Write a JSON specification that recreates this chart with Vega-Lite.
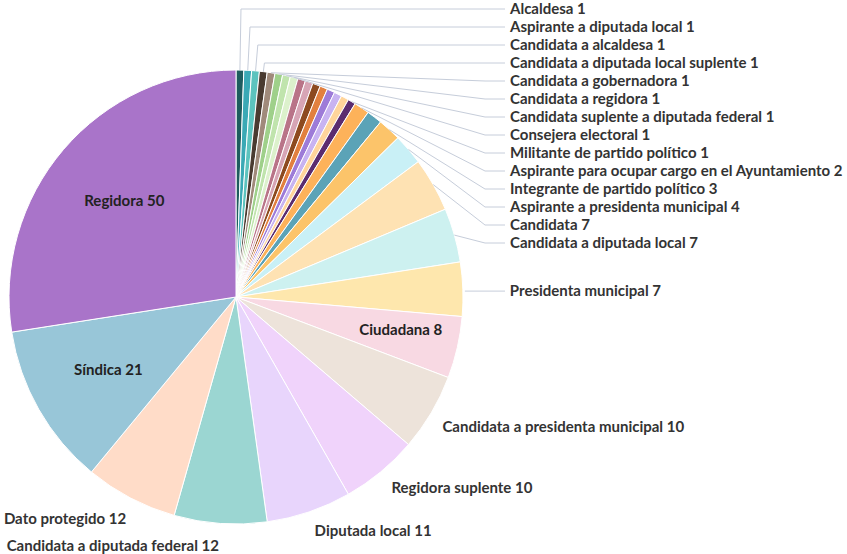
{
  "$schema": "https://vega.github.io/schema/vega-lite/v6.json",
  "autosize": {"type": "none"},
  "width": 472,
  "height": 454,
  "padding": {"left": 0, "top": 70, "right": 375, "bottom": 30},
  "background": "white",
  "config": {"view": {"stroke": null}, "text": {"font": "Lato", "fontSize": 15, "fontWeight": "bold", "fill": "#333333"}},
  "data": {"values": [
    {"cargo": "Alcaldesa", "n": 1},
    {"cargo": "Aspirante a diputada local", "n": 1},
    {"cargo": "Candidata a alcaldesa", "n": 1},
    {"cargo": "Candidata a diputada local suplente", "n": 1},
    {"cargo": "Candidata a gobernadora", "n": 1},
    {"cargo": "Candidata a regidora", "n": 1},
    {"cargo": "Candidata suplente a diputada federal", "n": 1},
    {"cargo": "Consejera electoral", "n": 1},
    {"cargo": "Otro cargo A", "n": 1},
    {"cargo": "Otro cargo B", "n": 1},
    {"cargo": "Otro cargo C", "n": 1},
    {"cargo": "Otro cargo D", "n": 1},
    {"cargo": "Otro cargo E", "n": 1},
    {"cargo": "Otro cargo F", "n": 1},
    {"cargo": "Otro cargo G", "n": 1},
    {"cargo": "Militante de partido político", "n": 1},
    {"cargo": "Aspirante para ocupar cargo en el Ayuntamiento", "n": 2},
    {"cargo": "Otro cargo H", "n": 2},
    {"cargo": "Integrante de partido político", "n": 3},
    {"cargo": "Aspirante a presidenta municipal", "n": 4},
    {"cargo": "Candidata", "n": 7},
    {"cargo": "Candidata a diputada local", "n": 7},
    {"cargo": "Presidenta municipal", "n": 7},
    {"cargo": "Ciudadana", "n": 8},
    {"cargo": "Candidata a presidenta municipal", "n": 10},
    {"cargo": "Regidora suplente", "n": 10},
    {"cargo": "Diputada local", "n": 11},
    {"cargo": "Candidata a diputada federal", "n": 12},
    {"cargo": "Dato protegido", "n": 12},
    {"cargo": "Síndica", "n": 21},
    {"cargo": "Regidora", "n": 50}
  ]},
  "transform": [
    {"window": [{"op": "row_number", "as": "idx"}]},
    {"joinaggregate": [{"op": "sum", "field": "n", "as": "total"}]},
    {"window": [{"op": "sum", "field": "n", "as": "cum"}], "sort": [{"field": "idx", "order": "ascending"}], "frame": [null, 0]},
    {"calculate": "(datum.cum - datum.n / 2) / datum.total * 2 * PI", "as": "am"},
    {"calculate": "datum.cargo + ' ' + datum.n", "as": "lbl"}
  ],
  "resolve": {"scale": {"theta": "independent"}},
  "layer": [
    {
      "mark": {"type": "arc", "stroke": "white", "strokeWidth": 1},
      "encoding": {
        "theta": {"field": "n", "type": "quantitative", "stack": true},
        "order": {"field": "idx", "type": "quantitative"},
        "color": {
          "field": "cargo", "type": "nominal", "legend": null,
          "scale": {
            "domain": ["Alcaldesa", "Aspirante a diputada local", "Candidata a alcaldesa", "Candidata a diputada local suplente", "Candidata a gobernadora", "Candidata a regidora", "Candidata suplente a diputada federal", "Consejera electoral", "Otro cargo A", "Otro cargo B", "Otro cargo C", "Otro cargo D", "Otro cargo E", "Otro cargo F", "Otro cargo G", "Militante de partido político", "Aspirante para ocupar cargo en el Ayuntamiento", "Otro cargo H", "Integrante de partido político", "Aspirante a presidenta municipal", "Candidata", "Candidata a diputada local", "Presidenta municipal", "Ciudadana", "Candidata a presidenta municipal", "Regidora suplente", "Diputada local", "Candidata a diputada federal", "Dato protegido", "Síndica", "Regidora"],
            "range": ["#1e5c5e", "#3aa9b5", "#5cc3be", "#4a3b31", "#a08a7b", "#9fd08a", "#c0e4ad", "#dcf1cc", "#b97488", "#d7a5b5", "#8d4a1f", "#e2803f", "#9d7bd8", "#c8b3f1", "#ffd59b", "#5b2c6f", "#fdb25a", "#5ba3b7", "#fcc46a", "#c9f0f6", "#fee2b3", "#cdf1f0", "#fee7ad", "#f8d9e3", "#ede3da", "#f0d3fb", "#e8d5fc", "#9bd6d2", "#ffdcc8", "#98c6d8", "#a974c9"]
          }
        }
      }
    },
    {
      "transform": [{"filter": {"field": "cargo", "oneOf": ["Regidora", "Síndica"]}}],
      "mark": {"type": "text", "radius": 147, "align": "center", "baseline": "middle", "fill": "#222222"},
      "encoding": {"theta": {"field": "am", "type": "quantitative", "scale": null}, "text": {"field": "lbl"}}
    },
    {
      "transform": [{"filter": {"field": "cargo", "oneOf": ["Ciudadana"]}}],
      "mark": {"type": "text", "radius": 169, "align": "center", "baseline": "middle", "dy": -5, "fill": "#222222"},
      "encoding": {"theta": {"field": "am", "type": "quantitative", "scale": null}, "text": {"field": "lbl"}}
    },
    {
      "transform": [{"filter": {"field": "cargo", "oneOf": ["Candidata a presidenta municipal"]}}],
      "mark": {"type": "text", "radius": 240, "align": "left", "baseline": "middle", "dy": 8},
      "encoding": {"theta": {"field": "am", "type": "quantitative", "scale": null}, "text": {"field": "lbl"}}
    },
    {
      "transform": [{"filter": {"field": "cargo", "oneOf": ["Regidora suplente", "Diputada local"]}}],
      "mark": {"type": "text", "radius": 244, "align": "left", "baseline": "middle", "dy": 3},
      "encoding": {"theta": {"field": "am", "type": "quantitative", "scale": null}, "text": {"field": "lbl"}}
    },
    {
      "transform": [{"filter": {"field": "cargo", "oneOf": ["Candidata a diputada federal"]}}],
      "mark": {"type": "text", "radius": 247, "align": "right", "baseline": "middle", "dy": 3},
      "encoding": {"theta": {"field": "am", "type": "quantitative", "scale": null}, "text": {"field": "lbl"}}
    },
    {
      "transform": [{"filter": {"field": "cargo", "oneOf": ["Dato protegido"]}}],
      "mark": {"type": "text", "radius": 247, "align": "right", "baseline": "middle", "dy": 3, "dx": 5},
      "encoding": {"theta": {"field": "am", "type": "quantitative", "scale": null}, "text": {"field": "lbl"}}
    },
    {
      "transform": [{"filter": {"field": "cargo", "oneOf": ["Presidenta municipal"]}}],
      "mark": {"type": "text", "radius": 274, "align": "left", "baseline": "middle", "dy": 3},
      "encoding": {"theta": {"field": "am", "type": "quantitative", "scale": null}, "text": {"field": "lbl"}}
    },
    {
      "transform": [
        {"filter": {"field": "cargo", "oneOf": ["Presidenta municipal"]}},
        {"calculate": "236 + 229 * sin(datum.am)", "as": "x1"},
        {"calculate": "297 - 229 * cos(datum.am) + 2", "as": "y1"},
        {"calculate": "505", "as": "x2"}
      ],
      "mark": {"type": "rule", "stroke": "#c6cdda", "strokeWidth": 1},
      "encoding": {
        "x": {"field": "x1", "type": "quantitative", "scale": {"domain": [0, 472], "nice": false, "zero": false}, "axis": null},
        "y": {"field": "y1", "type": "quantitative", "scale": {"domain": [70, 524], "reverse": true, "nice": false, "zero": false}, "axis": null},
        "x2": {"field": "x2"},
        "y2": {"field": "y1"}
      }
    },
    {
      "transform": [
        {"filter": {"field": "cargo", "oneOf": ["Alcaldesa", "Aspirante a diputada local", "Candidata a alcaldesa", "Candidata a diputada local suplente", "Candidata a gobernadora", "Candidata a regidora", "Candidata suplente a diputada federal", "Consejera electoral", "Militante de partido político", "Aspirante para ocupar cargo en el Ayuntamiento", "Integrante de partido político", "Aspirante a presidenta municipal", "Candidata", "Candidata a diputada local"]}},
        {"window": [{"op": "row_number", "as": "k"}], "sort": [{"field": "idx", "order": "ascending"}]},
        {"calculate": "9 + (datum.k - 1) * 18", "as": "ly"},
        {"calculate": "236 + 227 * sin(datum.am)", "as": "sx"},
        {"calculate": "297 - 227 * cos(datum.am)", "as": "sy"},
        {"calculate": "236 + (297 - datum.ly) * tan(datum.am)", "as": "cx"},
        {"calculate": "(datum.cx >= datum.sx && datum.cx <= 505 && datum.ly < datum.sy) ? datum.cx : 485", "as": "px"},
        {"calculate": "505", "as": "lx"},
        {"calculate": "510", "as": "tx"}
      ],
      "layer": [
        {
          "mark": {"type": "rule", "stroke": "#c6cdda", "strokeWidth": 1},
          "encoding": {
            "x": {"field": "lx", "type": "quantitative", "scale": {"domain": [0, 472], "nice": false, "zero": false}, "axis": null},
            "y": {"field": "ly", "type": "quantitative", "scale": {"domain": [70, 524], "reverse": true, "nice": false, "zero": false}, "axis": null},
            "x2": {"field": "px"},
            "y2": {"field": "ly"}
          }
        },
        {
          "mark": {"type": "rule", "stroke": "#c6cdda", "strokeWidth": 1},
          "encoding": {
            "x": {"field": "px", "type": "quantitative"},
            "y": {"field": "ly", "type": "quantitative"},
            "x2": {"field": "sx"},
            "y2": {"field": "sy"}
          }
        },
        {
          "mark": {"type": "text", "align": "left", "baseline": "middle"},
          "encoding": {
            "x": {"field": "tx", "type": "quantitative"},
            "y": {"field": "ly", "type": "quantitative"},
            "text": {"field": "lbl"}
          }
        }
      ]
    }
  ]
}
